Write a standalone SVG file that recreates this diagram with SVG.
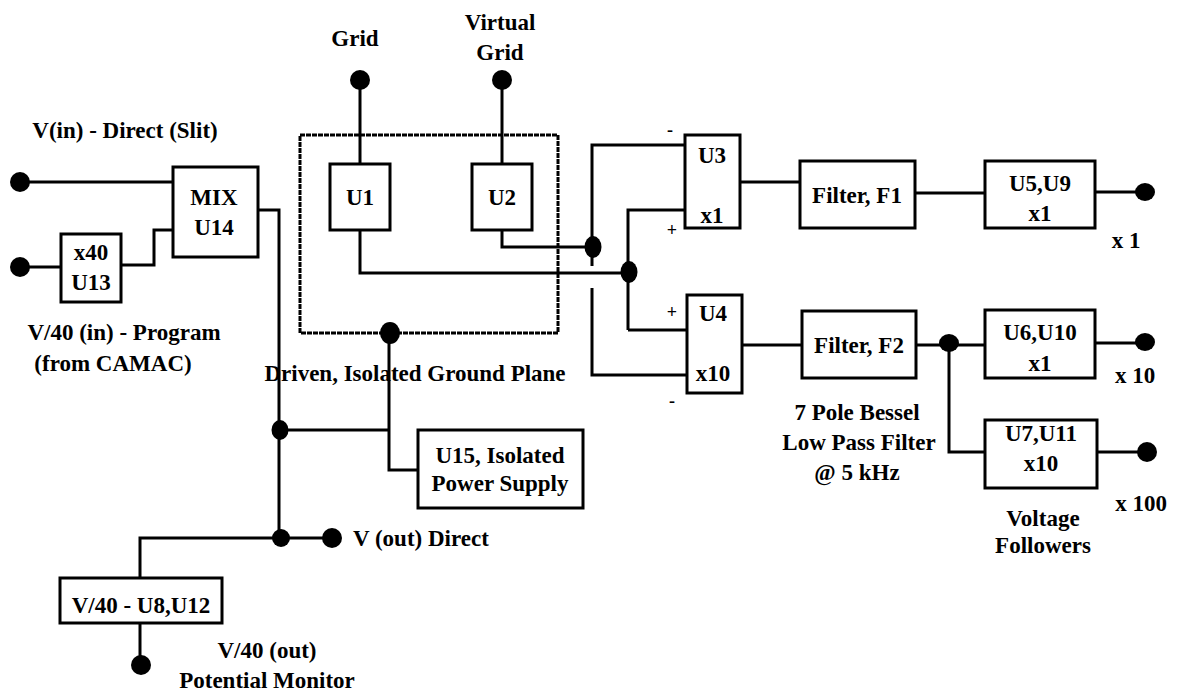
<svg xmlns="http://www.w3.org/2000/svg" width="1179" height="692" viewBox="0 0 1179 692">
<defs>
<style>
text{font-family:"Liberation Serif","Times New Roman",serif;font-weight:bold;font-size:23px;fill:#000;text-anchor:middle;dominant-baseline:central}
.l{text-anchor:start}
.box{fill:#fff;stroke:#000;stroke-width:3}
.w{fill:none;stroke:#000;stroke-width:3;stroke-linejoin:miter}
.dash{fill:none;stroke:#000;stroke-width:3;stroke-dasharray:5 1}
.dot{fill:#000}
.sm{font-size:18px}
</style>
</defs>
<rect width="1179" height="692" fill="#fff"/>

<g id="ground-plane">
<rect class="dash" x="300" y="135" width="258" height="198"/>
<text x="415" y="373">Driven, Isolated Ground Plane</text>
</g>

<g id="connectors">
<path class="w" d="M20 182H173"/>
<path class="w" d="M20 267H61"/>
<path class="w" d="M121 265H154V230H173"/>
<path class="w" d="M258 210H279V538"/>
<path class="w" d="M279 430H389"/>
<path class="w" d="M389 333V470H418"/>
<path class="w" d="M279 538H332"/>
<path class="w" d="M279 538H140V578"/>
<path class="w" d="M140 623V665"/>
<path class="w" d="M360 80V164"/>
<path class="w" d="M502 80V164"/>
<path class="w" d="M360 230V273H628"/>
<path class="w" d="M502 230V247H592"/>
<path class="w" d="M592 266V145H685"/>
<path class="w" d="M592 288V375H687"/>
<path class="w" d="M628 330V210H685"/>
<path class="w" d="M628 330H687"/>
<path class="w" d="M740 182H800"/>
<path class="w" d="M915 193H985"/>
<path class="w" d="M1095 192H1145"/>
<path class="w" d="M742 345H802"/>
<path class="w" d="M916 345H985"/>
<path class="w" d="M1095 343H1145"/>
<path class="w" d="M949 345V452H985"/>
<path class="w" d="M1097 452H1147"/>
<ellipse class="dot" cx="20" cy="182" rx="10" ry="10"/>
<ellipse class="dot" cx="20" cy="267" rx="10" ry="10"/>
<ellipse class="dot" cx="360" cy="80" rx="10" ry="10"/>
<ellipse class="dot" cx="502" cy="80" rx="10" ry="10"/>
<ellipse class="dot" cx="593" cy="247" rx="8.5" ry="11"/>
<ellipse class="dot" cx="629" cy="272" rx="8.5" ry="11"/>
<ellipse class="dot" cx="390" cy="333" rx="10" ry="11"/>
<ellipse class="dot" cx="280" cy="430" rx="8.5" ry="10"/>
<ellipse class="dot" cx="281" cy="538" rx="9" ry="9"/>
<ellipse class="dot" cx="332" cy="538" rx="10" ry="10"/>
<ellipse class="dot" cx="141" cy="665" rx="10" ry="10"/>
<ellipse class="dot" cx="1145" cy="192" rx="10" ry="9"/>
<ellipse class="dot" cx="949" cy="343" rx="10" ry="9"/>
<ellipse class="dot" cx="1145" cy="342" rx="10" ry="9"/>
<ellipse class="dot" cx="1147" cy="452" rx="10" ry="10"/>
</g>

<g id="labels">
<text x="125" y="130">V(in) - Direct (Slit)</text>
<text x="124" y="332">V/40 (in) - Program</text>
<text x="113" y="363">(from CAMAC)</text>
<text x="355" y="38">Grid</text>
<text x="500" y="22">Virtual</text>
<text x="500" y="52">Grid</text>
<text class="l" x="353" y="538">V (out) Direct</text>
<text x="267" y="650">V/40 (out)</text>
<text x="267" y="680">Potential Monitor</text>
<text x="670" y="130" class="sm">-</text>
<text x="672" y="230" class="sm">+</text>
<text x="672" y="312" class="sm">+</text>
<text x="672" y="401" class="sm">-</text>
<text x="857" y="412">7 Pole Bessel</text>
<text x="859" y="442">Low Pass Filter</text>
<text x="857" y="472">@ 5 kHz</text>
<text x="1043" y="518">Voltage</text>
<text x="1043" y="545">Followers</text>
<text x="1126" y="240">x 1</text>
<text x="1135" y="375">x 10</text>
<text x="1141" y="503">x 100</text>
</g>

<g id="MIX-U14"><rect class="box" x="173" y="167" width="85" height="90"/><text x="214" y="197">MIX</text><text x="214" y="227">U14</text></g>
<g id="U13"><rect class="box" x="61" y="234" width="60" height="68"/><text x="91" y="252">x40</text><text x="91" y="282">U13</text></g>
<g id="U1"><rect class="box" x="330" y="164" width="60" height="66"/><text x="360" y="197">U1</text></g>
<g id="U2"><rect class="box" x="472" y="164" width="60" height="66"/><text x="502" y="197">U2</text></g>
<g id="U3"><rect class="box" x="685" y="135" width="55" height="93"/><text x="712" y="155">U3</text><text x="712" y="215">x1</text></g>
<g id="U4"><rect class="box" x="687" y="295" width="55" height="98"/><text x="713" y="313">U4</text><text x="713" y="373">x10</text></g>
<g id="F1"><rect class="box" x="800" y="161" width="115" height="67"/><text x="857" y="195">Filter, F1</text></g>
<g id="F2"><rect class="box" x="802" y="311" width="114" height="67"/><text x="859" y="345">Filter, F2</text></g>
<g id="U5-U9"><rect class="box" x="985" y="161" width="110" height="67"/><text x="1040" y="183">U5,U9</text><text x="1040" y="213">x1</text></g>
<g id="U6-U10"><rect class="box" x="985" y="310" width="110" height="68"/><text x="1040" y="332">U6,U10</text><text x="1040" y="363">x1</text></g>
<g id="U7-U11"><rect class="box" x="985" y="420" width="112" height="68"/><text x="1041" y="433">U7,U11</text><text x="1041" y="463">x10</text></g>
<g id="U15"><rect class="box" x="418" y="430" width="165" height="78"/><text x="500" y="455">U15, Isolated</text><text x="500" y="483">Power Supply</text></g>
<g id="U8-U12"><rect class="box" x="60" y="578" width="162" height="45"/><text x="141" y="605">V/40 - U8,U12</text></g>
</svg>
